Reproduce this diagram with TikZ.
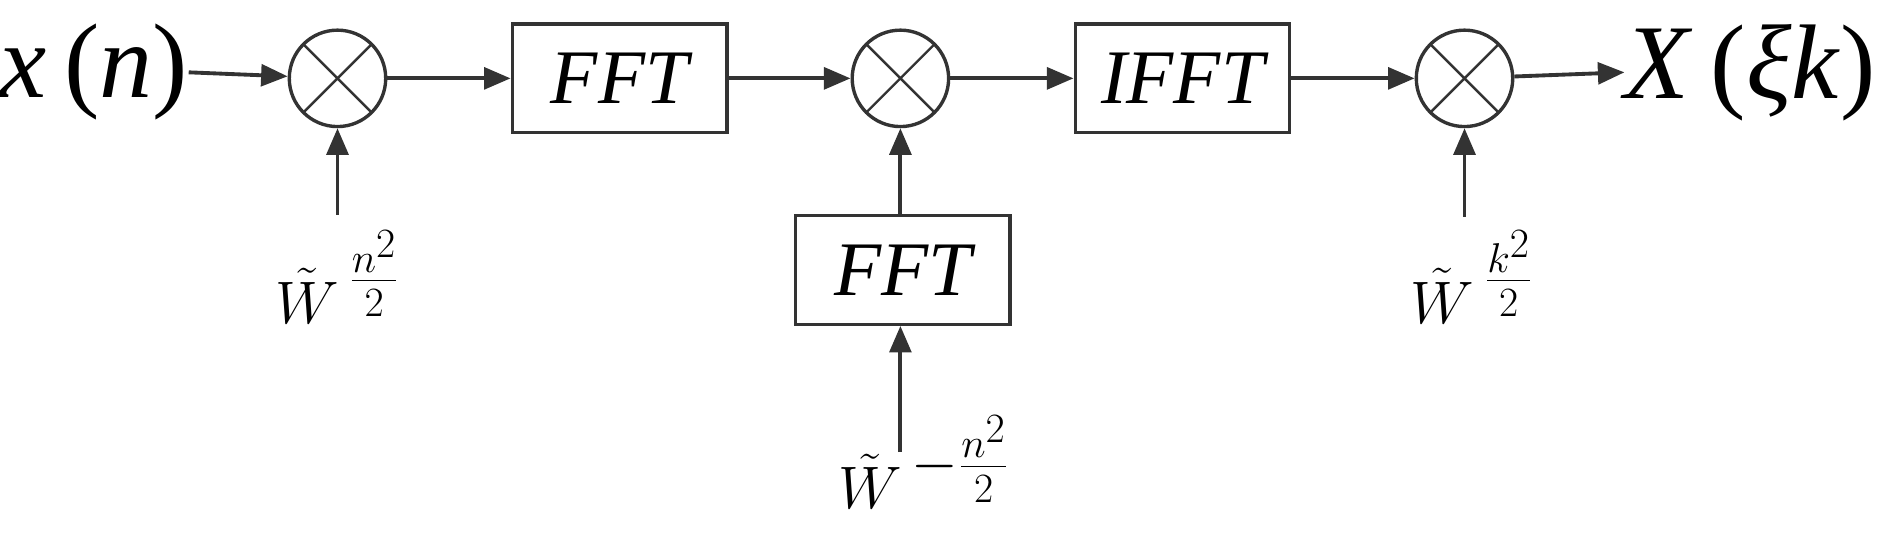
\documentclass[tikz,border=0pt]{standalone}
\usepackage{fontspec}
\setmainfont{Liberation Serif}
\usetikzlibrary{arrows.meta}
\begin{document}
\begin{tikzpicture}[x=0.5pt,y=-0.5pt,
  line/.style={draw=black!80,line width=1.6pt},
  arr/.style={line,-{Triangle[length=11pt,width=9pt]}},
  mix/.style={circle,draw=black!80,line width=1.4pt,minimum size=40pt,inner sep=0pt,
    path picture={\draw[black!80,line width=1pt](path picture bounding box.north west)--(path picture bounding box.south east)(path picture bounding box.north east)--(path picture bounding box.south west);}},
  blk/.style={draw=black!80,line width=1.4pt,minimum width=89pt,minimum height=45pt,inner sep=0pt,font=\fontsize{32}{32}\selectfont\itshape},
  big/.style={font=\fontsize{44}{44}\selectfont,inner sep=0pt},
  lab/.style={font=\fontsize{38}{38}\selectfont,inner sep=0pt,anchor=base west}]
\useasboundingbox (0,0) rectangle (1568,452);
\node[big] (x) at (78,60) {\textit{x}\,(\textit{n})};
\node[mix] (m1) at (280,65) {};
\node[blk] (f1) at (514,65) {FFT};
\node[mix] (m2) at (747,65) {};
\node[blk] (i1) at (981,65) {IFFT};
\node[mix] (m3) at (1215,65) {};
\node[big] (y) at (1452,60) {\textit{X}\,(\textit{ξk})};
\node[blk] (f2) at (749,224) {FFT};
\node[lab] (w1) at (228,268) {$\tilde W^{\,\frac{n^2}{2}}$};
\node[lab] (w2) at (695,422) {$\tilde W^{\,-\frac{n^2}{2}}$};
\node[lab] (w3) at (1170,268) {$\tilde W^{\,\frac{k^2}{2}}$};
\coordinate (c1) at (280,178);
\coordinate (c2) at (747,375);
\coordinate (c3) at (1215,180);
\draw[arr] (x.east) -- (m1);
\draw[arr] (m1) -- (f1);
\draw[arr] (f1) -- (m2);
\draw[arr] (m2) -- (i1);
\draw[arr] (i1) -- (m3);
\draw[arr] (m3) -- (y.west);
\draw[arr] (c1) -- (m1);
\draw[arr] (f2.north -| m2) -- (m2);
\draw[arr] (c2) -- (f2.south -| c2);
\draw[arr] (c3) -- (m3);
\end{tikzpicture}
\end{document}
